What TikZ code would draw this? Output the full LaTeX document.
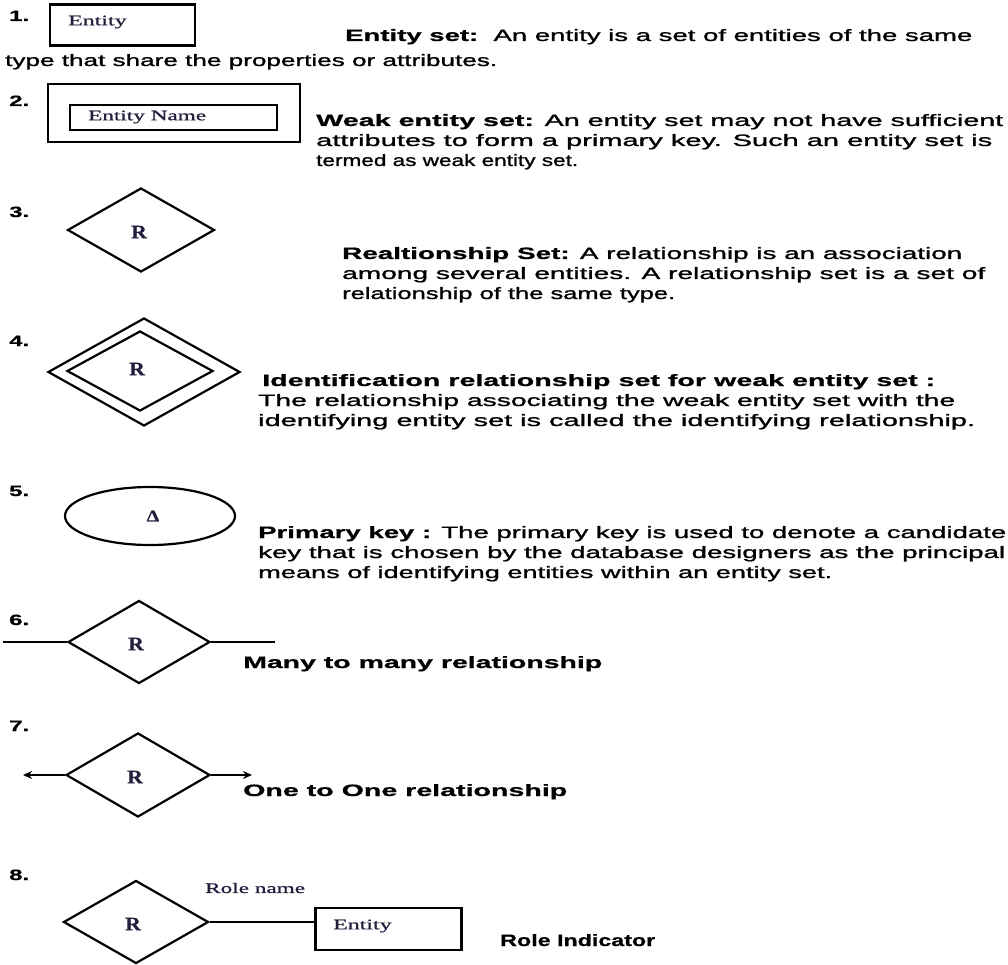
\documentclass[tikz,border=0pt]{standalone}
\usepackage{fontspec}
\usepackage{graphicx}
\setmainfont{Liberation Sans}[UprightFeatures={FakeBold=1},BoldFeatures={FakeBold=0.6}]
\newfontfamily\serifx{Liberation Serif}[UprightFeatures={FakeBold=0.8},BoldFeatures={FakeBold=0.5}]
\usetikzlibrary{shapes.geometric,arrows.meta}
\definecolor{lab}{RGB}{35,30,60}
\newcommand\fitline[2]{\resizebox{#1pt}{\height}{#2}}
\newcommand\wide[1]{\scalebox{1.6}[1]{#1}}
\tikzset{
  txt/.style={anchor=base west,inner sep=0pt,font=\fontsize{16.5}{20}\selectfont},
  num/.style={anchor=base west,inner sep=0pt,font=\fontsize{15}{17}\selectfont\bfseries},
  lbl/.style={inner sep=0pt,text=lab,font=\fontsize{14.5}{16}\selectfont\serifx},
  rlbl/.style={inner sep=0pt,text=lab,font=\fontsize{19}{21}\selectfont\serifx\bfseries},
  shp/.style={draw,line width=2.2pt},
  rel/.style={shp,diamond,inner sep=0pt},
  ent/.style={shp,rectangle,inner sep=0pt},
  conn/.style={line width=2.2pt},
  arr/.style={conn,-{Stealth[length=9pt,width=8pt]}}
}
\begin{document}
\begin{tikzpicture}[x=1pt,y=-1pt]
\useasboundingbox (0,0) rectangle (1008,965);

% numbers
\node[num] (n1) at (9,21) {\wide{1.}};
\node[num] (n2) at (9,106) {\wide{2.}};
\node[num] (n3) at (9,217) {\wide{3.}};
\node[num] (n4) at (9,346) {\wide{4.}};
\node[num] (n5) at (9,496) {\wide{5.}};
\node[num] (n6) at (9,625) {\wide{6.}};
\node[num] (n7) at (9,731) {\wide{7.}};
\node[num] (n8) at (9,880) {\wide{8.}};

% 1. entity
\node[ent,minimum width=145pt,minimum height=41pt] (e1) at (122.5,25) {};
\node[lbl,anchor=west] (e1t) at (68,22) {\scalebox{1.65}[1]{Entity}};
\node[txt] (t1a) at (345,41) {\fitline{627}{\textbf{Entity set:}~~An entity is a set of entities of the same}};
\node[txt] (t1b) at (5,66) {\fitline{492}{type that share the properties or attributes.}};

% 2. weak entity
\node[ent,minimum width=252pt,minimum height=58pt] (e2o) at (174,113) {};
\node[ent,minimum width=207pt,minimum height=25pt] (e2i) at (173.5,117.5) {};
\node[lbl,anchor=west] (e2t) at (88,117) {\scalebox{1.6}[1]{Entity Name}};
\node[txt] (t2a) at (316,126) {\fitline{687}{\textbf{Weak entity set:} An entity set may not have sufficient}};
\node[txt] (t2b) at (316,146) {\fitline{676}{attributes to form a primary key. Such an entity set is}};
\node[txt] (t2c) at (316,166) {\fitline{262}{termed as weak entity set.}};

% 3. relationship
\node[rel,minimum width=147pt,minimum height=84pt] (r3) at (141,230) {};
\node[rlbl] (r3t) at (139,232) {\scalebox{1.15}[1]{R}};
\node[txt] (t3a) at (342,259) {\fitline{620}{\textbf{Realtionship Set:} A relationship is an association}};
\node[txt] (t3b) at (342,279) {\fitline{643}{among several entities. A relationship set is a set of}};
\node[txt] (t3c) at (342,299) {\fitline{333}{relationship of the same type.}};

% 4. identifying relationship
\node[rel,minimum width=192pt,minimum height=108pt] (r4o) at (144,372) {};
\node[rel,minimum width=146pt,minimum height=80pt] (r4i) at (140,371) {};
\node[rlbl] (r4t) at (137,369) {\scalebox{1.15}[1]{R}};
\node[txt] (t4a) at (262,386) {\fitline{673}{\textbf{Identification relationship set for weak entity set :}}};
\node[txt] (t4b) at (258,406) {\fitline{697}{The relationship associating the weak entity set with the}};
\node[txt] (t4c) at (258,426) {\fitline{717}{identifying entity set is called the identifying relationship.}};

% 5. primary key
\node[shp,ellipse,minimum width=170pt,minimum height=58pt,inner sep=0pt] (k5) at (150,516) {};
\node[rlbl,font=\fontsize{16}{18}\selectfont\serifx\bfseries] (k5t) at (153,516) {\scalebox{1.25}[1]{Δ}};
\node[txt] (t5a) at (258,538) {\fitline{748}{\textbf{Primary key :} The primary key is used to denote a candidate}};
\node[txt] (t5b) at (258,558) {\fitline{747}{key that is chosen by the database designers as the principal}};
\node[txt] (t5c) at (258,578) {\fitline{574}{means of identifying entities within an entity set.}};

% 6. many to many
\node[rel,minimum width=142pt,minimum height=83pt] (r6) at (139,642) {};
\node[rlbl] (r6t) at (136,644) {\scalebox{1.15}[1]{R}};
\coordinate (c6a) at (3,642);
\coordinate (c6b) at (275,642);
\draw[conn] (c6a) -- (r6.west);
\draw[conn] (r6.east) -- (c6b);
\node[txt] (t6) at (243,668) {\fitline{359}{\textbf{Many to many relationship}}};

% 7. one to one
\node[rel,minimum width=144pt,minimum height=84pt] (r7) at (138,775) {};
\node[rlbl] (r7t) at (135,777) {\scalebox{1.15}[1]{R}};
\coordinate (c7a) at (23,775);
\coordinate (c7b) at (252,775);
\draw[arr] (r7.west) -- (c7a);
\draw[arr] (r7.east) -- (c7b);
\node[txt] (t7) at (243,796) {\fitline{324}{\textbf{One to One relationship}}};

% 8. role indicator
\node[rel,minimum width=145pt,minimum height=83pt] (r8) at (136,922) {};
\node[rlbl] (r8t) at (133,924) {\scalebox{1.15}[1]{R}};
\node[ent,minimum width=146pt,minimum height=42pt] (e8) at (388.5,929) {};
\node[lbl,anchor=west] (e8t) at (333,926) {\scalebox{1.65}[1]{Entity}};
\node[lbl,anchor=west] (rn) at (205,888) {\scalebox{1.6}[1]{Role name}};
\draw[conn] (r8.east) -- (r8.east -| e8.west);
\node[txt] (t8) at (500,946) {\fitline{155}{\textbf{Role Indicator}}};
\end{tikzpicture}
\end{document}
